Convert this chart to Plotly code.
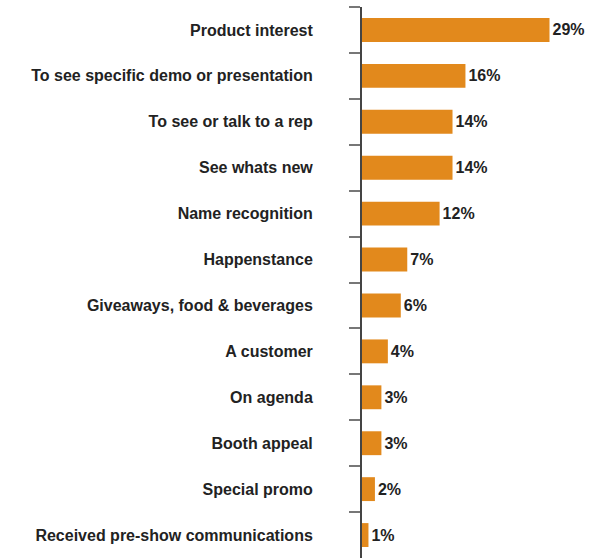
import plotly.graph_objects as go

reasons = [
    "Product interest",
    "To see specific demo or presentation",
    "To see or talk to a rep",
    "See whats new",
    "Name recognition",
    "Happenstance",
    "Giveaways, food & beverages",
    "A customer",
    "On agenda",
    "Booth appeal",
    "Special promo",
    "Received pre-show communications",
]
shares = [29, 16, 14, 14, 12, 7, 6, 4, 3, 3, 2, 1]
value_labels = [f"{v}%" for v in shares]

BAR_COLOR = "#E2891C"
TEXT_COLOR = "#222222"
FONT = "Liberation Sans, Arial, Helvetica, sans-serif"

fig = go.Figure(
    go.Bar(
        x=shares,
        y=reasons,
        orientation="h",
        marker=dict(color=BAR_COLOR, line=dict(width=0)),
        text=value_labels,
        textposition="outside",
        cliponaxis=False,
        textfont=dict(family=FONT, size=16, color=TEXT_COLOR, weight="bold"),
        hoverinfo="skip",
    )
)

fig.update_layout(
    width=598,
    height=558,
    margin=dict(l=362, r=0, t=7, b=0),
    paper_bgcolor="white",
    plot_bgcolor="white",
    bargap=0.48,
    showlegend=False,
    font=dict(family=FONT, color=TEXT_COLOR),
)

fig.update_xaxes(visible=False, range=[0, 36.5], fixedrange=True)
fig.update_yaxes(
    autorange="reversed",
    showline=True,
    linecolor="#444444",
    linewidth=2,
    ticks="outside",
    tickson="boundaries",
    ticklen=11,
    tickwidth=2,
    tickcolor="#777777",
    ticklabelstandoff=44,
    tickfont=dict(family=FONT, size=16, color=TEXT_COLOR, weight="bold"),
    showgrid=False,
    zeroline=False,
    fixedrange=True,
)

fig.write_html("out.html")
